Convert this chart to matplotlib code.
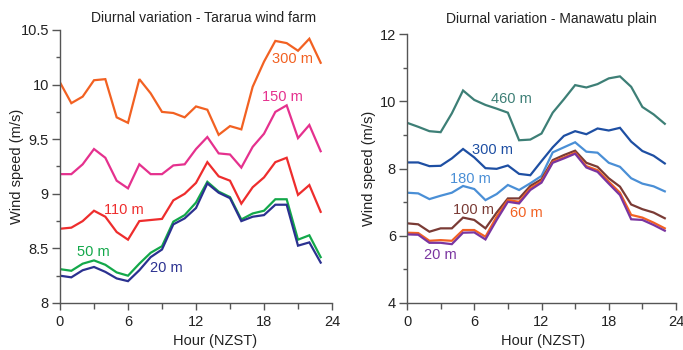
import matplotlib
matplotlib.use("Agg")
import matplotlib.pyplot as plt
from matplotlib.ticker import MultipleLocator, FuncFormatter

plt.rcParams['font.family'] = ['Liberation Sans', 'DejaVu Sans']

hours = list(range(24))

# Tararua wind farm
tar_300 = [10.02, 9.83, 9.89, 10.04, 10.05, 9.70, 9.65, 10.05, 9.92, 9.75, 9.74, 9.70,
           9.80, 9.77, 9.54, 9.62, 9.59, 9.98, 10.21, 10.40, 10.38, 10.31, 10.42, 10.20]
tar_150 = [9.18, 9.18, 9.27, 9.41, 9.33, 9.12, 9.05, 9.27, 9.18, 9.18, 9.26, 9.27,
           9.41, 9.52, 9.37, 9.36, 9.24, 9.43, 9.55, 9.75, 9.81, 9.51, 9.63, 9.39]
tar_110 = [8.68, 8.69, 8.75, 8.845, 8.79, 8.65, 8.58, 8.75, 8.76, 8.77, 8.94, 9.00,
           9.10, 9.29, 9.16, 9.12, 8.91, 9.06, 9.15, 9.29, 9.33, 8.99, 9.08, 8.835]
tar_50 = [8.31, 8.295, 8.36, 8.39, 8.35, 8.28, 8.25, 8.36, 8.46, 8.52, 8.745, 8.805,
          8.92, 9.11, 9.02, 8.97, 8.765, 8.82, 8.845, 8.95, 8.95, 8.58, 8.62, 8.42]
tar_20 = [8.25, 8.235, 8.30, 8.33, 8.285, 8.225, 8.20, 8.30, 8.42, 8.49, 8.72, 8.775,
          8.87, 9.095, 9.01, 8.96, 8.75, 8.79, 8.805, 8.90, 8.90, 8.525, 8.555, 8.37]

# Manawatu plain
man_460 = [9.36, 9.24, 9.11, 9.08, 9.64, 10.32, 10.04, 9.89, 9.78, 9.66, 8.84, 8.86,
           9.04, 9.66, 10.06, 10.48, 10.41, 10.51, 10.68, 10.74, 10.43, 9.83, 9.61, 9.33]
man_300 = [8.18, 8.18, 8.07, 8.08, 8.30, 8.58, 8.33, 8.01, 7.99, 8.09, 7.84, 7.80,
           8.22, 8.63, 8.97, 9.11, 9.02, 9.19, 9.13, 9.21, 8.80, 8.52, 8.38, 8.15]
man_180 = [7.28, 7.26, 7.09, 7.19, 7.28, 7.48, 7.39, 7.06, 7.24, 7.51, 7.36, 7.56,
           7.78, 8.48, 8.63, 8.78, 8.50, 8.47, 8.17, 8.05, 7.71, 7.55, 7.47, 7.32]
man_100 = [6.37, 6.34, 6.12, 6.22, 6.22, 6.54, 6.47, 6.22, 6.69, 7.11, 7.11, 7.48,
           7.68, 8.25, 8.40, 8.53, 8.17, 8.05, 7.71, 7.46, 6.93, 6.79, 6.69, 6.52]
man_60 = [6.09, 6.08, 5.85, 5.87, 5.85, 6.17, 6.17, 5.97, 6.57, 7.06, 7.01, 7.41,
          7.62, 8.20, 8.33, 8.47, 8.07, 7.95, 7.61, 7.28, 6.62, 6.54, 6.39, 6.22]
man_20 = [6.04, 6.03, 5.79, 5.79, 5.75, 6.09, 6.10, 5.89, 6.47, 7.01, 6.96, 7.36,
          7.58, 8.17, 8.30, 8.44, 8.03, 7.90, 7.55, 7.21, 6.49, 6.47, 6.32, 6.15]

tar_series = [
    (tar_300, '300 m', '#F26122', 292, 59),
    (tar_150, '150 m', '#E5318E', 282, 97),
    (tar_110, '110 m', '#EE2D2D', 124, 210),
    (tar_50, '50 m', '#13A84A', 93, 252),
    (tar_20, '20 m', '#2B3190', 166, 268),
]
man_series = [
    (man_460, '460 m', '#3D7F76', 511, 99),
    (man_300, '300 m', '#1E4FA3', 492, 150),
    (man_180, '180 m', '#4A8FD6', 470, 179),
    (man_100, '100 m', '#7A3B35', 473, 210),
    (man_60, '60 m', '#F26122', 526, 213),
    (man_20, '20 m', '#7A35A0', 440, 255),
]

W, H = 683, 350
fig = plt.figure(figsize=(W / 100, H / 100), dpi=100)

def fx(px):
    return px / W

def fy(py):
    return 1 - py / H

ax1 = fig.add_axes([fx(60), fy(303), (332 - 60) / W, (303 - 30) / H])
ax2 = fig.add_axes([fx(407), fy(303), (676 - 407) / W, (303 - 34) / H])

axcol = '#555555'
txtcol = '#222222'
for ax in (ax1, ax2):
    for s in ('top', 'right'):
        ax.spines[s].set_visible(False)
    for s in ('left', 'bottom'):
        ax.spines[s].set_color(axcol)
        ax.spines[s].set_linewidth(1.0)
    ax.set_xlim(0, 24)
    ax.xaxis.set_major_locator(MultipleLocator(6))
    ax.xaxis.set_minor_locator(MultipleLocator(3))
    ax.tick_params(which='both', colors=axcol, labelcolor=txtcol, labelsize=10.5)
    ax.tick_params(axis='x', which='major', length=5, width=1, pad=4)
    ax.tick_params(axis='x', which='minor', length=4, width=1)
    ax.tick_params(axis='y', which='major', length=6, width=1, pad=2)
    ax.tick_params(axis='y', which='minor', length=3, width=1)
    ax.yaxis.set_major_formatter(FuncFormatter(lambda v, p: '%g' % v))

ax1.set_ylim(8, 10.5)
ax1.yaxis.set_major_locator(MultipleLocator(0.5))
ax1.yaxis.set_minor_locator(MultipleLocator(0.25))

ax2.set_ylim(4, 12)
ax2.yaxis.set_major_locator(MultipleLocator(2))
ax2.yaxis.set_minor_locator(MultipleLocator(1))

for ax, series in ((ax1, tar_series), (ax2, man_series)):
    for vals, lab, col, lx, ly in series:
        ax.plot(hours, vals, color=col, lw=1.6, solid_joinstyle='miter')
        fig.text(fx(lx), fy(ly), lab, color=col, fontsize=10.5, ha='center', va='center')

# axis labels
fig.text(fx(215), fy(341), 'Hour (NZST)', fontsize=10.5, color=txtcol, ha='center', va='center')
fig.text(fx(543), fy(341), 'Hour (NZST)', fontsize=10.5, color=txtcol, ha='center', va='center')
fig.text(fx(17), fy(166), 'Wind speed (m/s)', fontsize=10.5, color=txtcol,
         ha='center', va='center', rotation=90)
fig.text(fx(369), fy(168), 'Wind speed (m/s)', fontsize=10.5, color=txtcol,
         ha='center', va='center', rotation=90)

fig.text(fx(204), fy(18), 'Diurnal variation - Tararua wind farm', fontsize=10,
         color=txtcol, ha='center', va='center')
fig.text(fx(551), fy(19), 'Diurnal variation - Manawatu plain', fontsize=10,
         color=txtcol, ha='center', va='center')

fig.savefig('out.png', dpi=100)
